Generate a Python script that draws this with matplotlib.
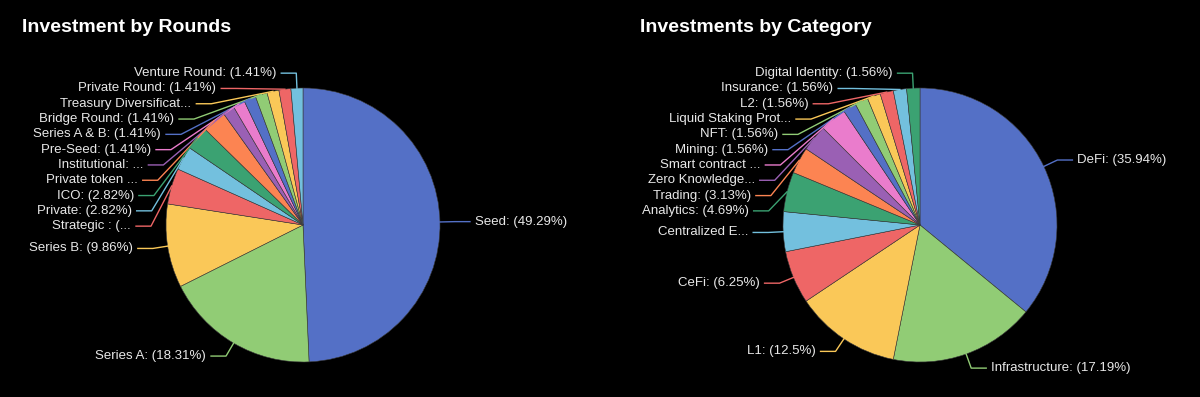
import math
from matplotlib import pyplot as plt

plt.rcParams['font.family'] = ['Liberation Sans', 'DejaVu Sans']

# Data
round_names = ['Seed', 'Series A', 'Series B', 'Strategic ', 'Private', 'ICO', 'Private token',
               'Institutional', 'Pre-Seed', 'Series A & B', 'Bridge Round',
               'Treasury Diversification', 'Private Round', 'Venture Round']
round_counts = [35, 13, 7, 3, 2, 2, 2, 1, 1, 1, 1, 1, 1, 1]
round_short = {'Strategic ': 'Strategic : (...', 'Private token': 'Private token ...',
               'Institutional': 'Institutional: ...',
               'Treasury Diversification': 'Treasury Diversificat...'}

cat_names = ['DeFi', 'Infrastructure', 'L1', 'CeFi', 'Centralized Exchange', 'Analytics', 'Trading',
             'Zero Knowledge', 'Smart contract', 'Mining', 'NFT', 'Liquid Staking Protocol', 'L2',
             'Insurance', 'Digital Identity']
cat_counts = [23, 11, 8, 4, 3, 3, 2, 2, 2, 1, 1, 1, 1, 1, 1]
cat_short = {'Centralized Exchange': 'Centralized E...', 'Zero Knowledge': 'Zero Knowledge...',
             'Smart contract': 'Smart contract ...',
             'Liquid Staking Protocol': 'Liquid Staking Prot...'}

palette = ['#5470c6', '#91cc75', '#fac858', '#ee6666', '#73c0de',
           '#3ba272', '#fc8452', '#9a60b4', '#ea7ccc']

W, H = 1200, 397
R = 137
LEN1, LEN2 = 15, 15
GAP = 15.3


def percents(vals, prec=2):
    # largest remainder rounding so the labels sum to 100
    digits = 10 ** prec
    total = sum(vals)
    quotas = [v / total * 100 * digits for v in vals]
    seats = [math.floor(q) for q in quotas]
    rem = [q - s for q, s in zip(quotas, seats)]
    left = 100 * digits - sum(seats)
    while left > 0:
        i = rem.index(max(rem))
        seats[i] += 1
        rem[i] = -1
        left -= 1
    return [s / digits for s in seats]


def draw_pie(ax, cx, cy, names, counts, short, title, title_x):
    colors = [palette[i % len(palette)] for i in range(len(counts))]
    ax.pie(counts, colors=colors, startangle=90, counterclock=False, radius=R,
           center=(cx, cy), wedgeprops=dict(linewidth=0.4, edgecolor='#3a3a3a'))
    pcts = percents(counts)
    total = sum(counts)
    items = []
    cum = 0
    for name, c, p, col in zip(names, counts, pcts, colors):
        mid = (cum + c / 2) / total * 2 * math.pi
        cum += c
        sx, sy = math.sin(mid), math.cos(mid)
        text = short.get(name, f'{name}: ({p:g}%)')
        items.append(dict(text=text, col=col, dx=sx, dy=sy,
                          ey=cy + (R + LEN1) * sy, side=1 if sx >= 0 else -1))
    for side in (1, -1):
        group = sorted([it for it in items if it['side'] == side], key=lambda d: -d['ey'])
        for k in range(1, len(group)):
            if group[k]['ey'] > group[k - 1]['ey'] - GAP:
                group[k]['ey'] = group[k - 1]['ey'] - GAP
        for it in group:
            d = abs(it['ey'] - cy)
            rr = R + LEN1
            ex = cx + side * (math.sqrt(rr ** 2 - d ** 2) if d < rr else 0)
            px, py = cx + R * it['dx'], cy + R * it['dy']
            tx = ex + side * LEN2
            ax.plot([px, ex, tx], [py, it['ey'], it['ey']], color=it['col'], lw=1)
            ax.text(tx + side * 5, it['ey'], it['text'], color='#e8e8e8', fontsize=9.5,
                    ha='left' if side > 0 else 'right', va='center')
    ax.text(title_x, H - 28, title, color='white', fontsize=14, fontweight='bold',
            ha='left', va='center')


fig = plt.figure(figsize=(W / 100, H / 100), dpi=100, facecolor='black')
ax = fig.add_axes([0, 0, 1, 1])
ax.set_facecolor('black')
ax.set_xlim(0, W)
ax.set_ylim(0, H)
ax.axis('off')

draw_pie(ax, 303, H - 225, round_names, round_counts, round_short, 'Investment by Rounds', 22)
draw_pie(ax, 920, H - 225, cat_names, cat_counts, cat_short, 'Investments by Category', 640)
ax.set_xlim(0, W)
ax.set_ylim(0, H)
ax.set_aspect('auto')

plt.savefig('out.png', dpi=100, facecolor='black')
plt.close()
